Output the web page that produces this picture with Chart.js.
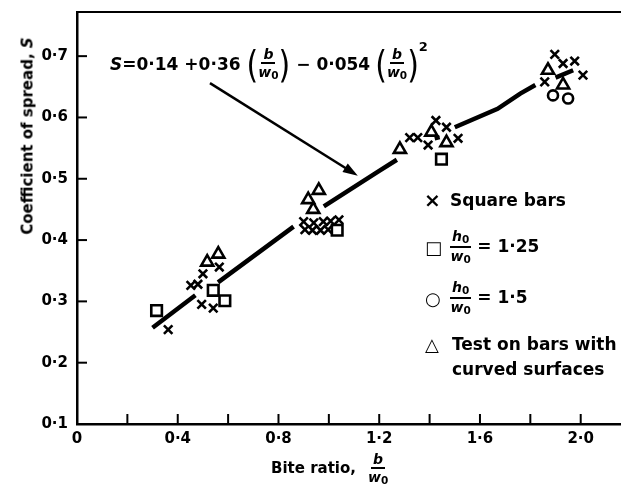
<!DOCTYPE html>
<html><head><meta charset="utf-8">
<script src="https://cdn.jsdelivr.net/npm/chart.js@4.4.0/dist/chart.umd.min.js"></script>
<style>
html,body{margin:0;padding:0;background:#fff;}
#wrap{position:relative;width:621px;height:491px;overflow:hidden;background:#fff;}
canvas{position:absolute;left:0;top:0;}
.t{position:absolute;font-family:'DejaVu Sans',sans-serif;font-weight:bold;color:#000;white-space:nowrap;line-height:1;}
.frac{display:inline-flex;flex-direction:column;align-items:center;line-height:1;}
.frac .num{border-bottom:2px solid #000;padding:0 2px 1px 2px;}
.frac .den{padding-top:1px;}
.row{display:flex;align-items:center;}
.par{font-weight:normal;font-size:30px;line-height:1;transform:scaleY(1.25);}
sub{font-size:0.75em;vertical-align:-0.2em;}
</style></head><body>
<div id="wrap">
<canvas id="c" width="621" height="491"></canvas>
<div class="t row" style="left:110px;top:44px;height:40px;font-size:17px;">
  <span><i>S</i>=0·14 +0·36</span>
  <span class="par" style="margin-left:6px">(</span>
  <span class="frac" style="font-size:14px"><span class="num"><i>b</i></span><span class="den"><i>w</i><sub>0</sub></span></span>
  <span class="par">)</span>
  <span style="margin-left:6px">− 0·054</span>
  <span class="par" style="margin-left:5px">(</span>
  <span class="frac" style="font-size:14px"><span class="num"><i>b</i></span><span class="den"><i>w</i><sub>0</sub></span></span>
  <span class="par">)</span>
  <span style="font-size:13px;align-self:flex-start;margin-top:-4px">2</span>
</div>
<div class="t" style="left:28px;top:136px;font-size:15px;transform:translate(-50%,-50%) rotate(-90deg);">Coefficient of spread, <i>S</i></div>
<div class="t row" style="left:271px;top:452px;font-size:15px;">
  <span>Bite ratio,</span>
  <span class="frac" style="font-size:14px;margin-left:12px"><span class="num"><i>b</i></span><span class="den"><i>w</i><sub>0</sub></span></span>
</div>
<div class="t" style="left:424px;top:190px;font-size:20px;">×</div>
<div class="t" style="left:450px;top:192px;font-size:17px;">Square bars</div>
<div class="t" style="left:425px;top:239px;font-size:18px;">□</div>
<div class="t row" style="left:450px;top:229px;font-size:17px;">
  <span class="frac" style="font-size:14px"><span class="num"><i>h</i><sub>0</sub></span><span class="den"><i>w</i><sub>0</sub></span></span>
  <span style="margin-left:6px">= 1·25</span>
</div>
<div class="t" style="left:425px;top:290px;font-size:18px;">○</div>
<div class="t row" style="left:450px;top:280px;font-size:17px;">
  <span class="frac" style="font-size:14px"><span class="num"><i>h</i><sub>0</sub></span><span class="den"><i>w</i><sub>0</sub></span></span>
  <span style="margin-left:6px">= 1·5</span>
</div>
<div class="t" style="left:425px;top:336px;font-size:18px;">△</div>
<div class="t" style="left:452px;top:336px;font-size:17px;">Test on bars with</div>
<div class="t" style="left:452px;top:361px;font-size:17px;">curved surfaces</div>
</div>
<script>
// ---- axis ticks ----
const xTickValues = [0, 0.2, 0.4, 0.6, 0.8, 1.0, 1.2, 1.4, 1.6, 1.8, 2.0];
const xLabelValues = [0, 0.4, 0.8, 1.2, 1.6, 2.0];
const xLabelTexts = ['0', '0·4', '0·8', '1·2', '1·6', '2·0'];
const yTickValues = [0.1, 0.2, 0.3, 0.4, 0.5, 0.6, 0.7];
const yTickLabels = ['0·1', '0·2', '0·3', '0·4', '0·5', '0·6', '0·7'];

// ---- series: square bars (x markers) ----
const squareBarsX = [0.362,0.452,0.480,0.500,0.495,0.541,0.565, 0.900,0.940,0.978,1.007,1.040,0.905,0.935,0.967,0.997, 1.321,1.353,1.394,1.425,1.467,1.513, 1.857,1.897,1.930,1.976,2.009];
const squareBarsY = [0.254,0.326,0.328,0.345,0.295,0.289,0.356, 0.430,0.428,0.430,0.431,0.433,0.417,0.416,0.416,0.417, 0.567,0.567,0.555,0.595,0.584,0.566, 0.658,0.703,0.688,0.692,0.669];
// ---- h0/w0 = 1.25 (squares) ----
const ratio125X = [0.316,0.541,0.587,1.033,1.447];
const ratio125Y = [0.285,0.318,0.301,0.416,0.532];
// ---- h0/w0 = 1.5 (circles) ----
const ratio15X = [1.890,1.950];
const ratio15Y = [0.636,0.631];
// ---- curved surfaces (triangles) ----
const curvedX = [0.517,0.561,0.918,0.938,0.960,1.282,1.407,1.467,1.870,1.930];
const curvedY = [0.364,0.377,0.466,0.450,0.481,0.548,0.576,0.559,0.677,0.653];
// ---- fitted curve as drawn (null = gap) ----
const fitLineX = [0.30,0.47,0.51,0.56,0.86,0.92,0.98,1.20,1.27,1.35,1.42,1.44,1.47,1.50,1.67,1.76,1.82,1.86,1.90,1.97];
const fitLineY = [0.257,0.310,null,0.331,0.422,null,0.455,0.513,0.531,null,0.566,0.568,null,0.584,0.614,0.639,0.653,null,0.665,0.677];
// ---- arrow from equation to curve (data units) ----
const arrowFrom = [0.528, 0.656];
const arrowTo = [1.115, 0.505];

const pts = (xs, ys) => xs.map((x, i) => ({x: x, y: ys[i]}));

const decor = {
  id: 'decor',
  afterDraw(chart) {
    const ctx = chart.ctx, xs = chart.scales.x, ys = chart.scales.y, a = chart.chartArea;
    ctx.save();
    ctx.strokeStyle = '#000';
    ctx.fillStyle = '#000';
    ctx.lineWidth = 2;
    ctx.beginPath(); ctx.moveTo(a.left, a.top); ctx.lineTo(a.right, a.top); ctx.stroke();
    xTickValues.forEach(v => {
      if (v === 0) return;
      const px = xs.getPixelForValue(v);
      ctx.beginPath(); ctx.moveTo(px, a.bottom); ctx.lineTo(px, a.bottom - 10); ctx.stroke();
    });
    yTickValues.forEach(v => {
      if (v <= 0.1) return;
      const py = ys.getPixelForValue(v);
      ctx.beginPath(); ctx.moveTo(a.left, py); ctx.lineTo(a.left + 10, py); ctx.stroke();
    });
    const x1 = xs.getPixelForValue(arrowFrom[0]), y1 = ys.getPixelForValue(arrowFrom[1]);
    const x2 = xs.getPixelForValue(arrowTo[0]), y2 = ys.getPixelForValue(arrowTo[1]);
    const ang = Math.atan2(y2 - y1, x2 - x1);
    ctx.lineWidth = 2.5;
    ctx.beginPath(); ctx.moveTo(x1, y1); ctx.lineTo(x2 - 8 * Math.cos(ang), y2 - 8 * Math.sin(ang)); ctx.stroke();
    const L = 15, W = 5;
    ctx.beginPath();
    ctx.moveTo(x2, y2);
    ctx.lineTo(x2 - L * Math.cos(ang) + W * Math.sin(ang), y2 - L * Math.sin(ang) - W * Math.cos(ang));
    ctx.lineTo(x2 - L * Math.cos(ang) - W * Math.sin(ang), y2 - L * Math.sin(ang) + W * Math.cos(ang));
    ctx.closePath(); ctx.fill();
    ctx.restore();
  }
};

const tickFont = {family: "'DejaVu Sans', sans-serif", size: 15, weight: 'bold'};

new Chart(document.getElementById('c'), {
  data: {
    datasets: [
      {type: 'line', label: 'S = 0.14 + 0.36(b/w0) - 0.054(b/w0)^2', data: pts(fitLineX, fitLineY),
        borderColor: '#000', borderWidth: 4.5, pointRadius: 0, spanGaps: false, tension: 0, fill: false, order: 5},
      {type: 'scatter', label: 'Square bars', data: pts(squareBarsX, squareBarsY),
        pointStyle: 'crossRot', pointRadius: 6, borderColor: '#000', borderWidth: 2.6, backgroundColor: '#000'},
      {type: 'scatter', label: 'h0/w0 = 1.25', data: pts(ratio125X, ratio125Y),
        pointStyle: 'rect', pointRadius: 7.5, borderColor: '#000', borderWidth: 2.6, backgroundColor: 'rgba(0,0,0,0)'},
      {type: 'scatter', label: 'h0/w0 = 1.5', data: pts(ratio15X, ratio15Y),
        pointStyle: 'circle', pointRadius: 5, borderColor: '#000', borderWidth: 2.6, backgroundColor: 'rgba(0,0,0,0)'},
      {type: 'scatter', label: 'Test on bars with curved surfaces', data: pts(curvedX, curvedY),
        pointStyle: 'triangle', pointRadius: 7, borderColor: '#000', borderWidth: 2.6, backgroundColor: 'rgba(0,0,0,0)'}
    ]
  },
  options: {
    responsive: false,
    animation: false,
    events: [],
    layout: {autoPadding: false, padding: {top: 12, right: 0, left: 0, bottom: 0}},
    plugins: {legend: {display: false}, tooltip: {enabled: false}},
    scales: {
      x: {
        type: 'linear', min: 0, max: 2.16,
        afterBuildTicks: s => { s.ticks = xTickValues.map(v => ({value: v})); },
        afterFit: s => { s.height = 67; s.paddingRight = 0; s.paddingLeft = 0; },
        grid: {display: false, drawTicks: false},
        border: {display: true, color: '#000', width: 2.5},
        ticks: {
          autoSkip: false, maxRotation: 0, padding: 6, color: '#000', font: tickFont,
          callback: v => { const i = xLabelValues.findIndex(l => Math.abs(l - v) < 1e-6); return i >= 0 ? xLabelTexts[i] : ''; }
        }
      },
      y: {
        type: 'linear', min: 0.1, max: 0.772,
        afterBuildTicks: s => { s.ticks = yTickValues.map(v => ({value: v})); },
        afterFit: s => { s.width = 77; s.paddingTop = 0; s.paddingBottom = 0; },
        grid: {display: false, drawTicks: false},
        border: {display: true, color: '#000', width: 2.5},
        ticks: {
          autoSkip: false, padding: 9, color: '#000', font: tickFont,
          callback: (v, i) => yTickLabels[i]
        }
      }
    }
  },
  plugins: [decor]
});
</script>
</body></html>
